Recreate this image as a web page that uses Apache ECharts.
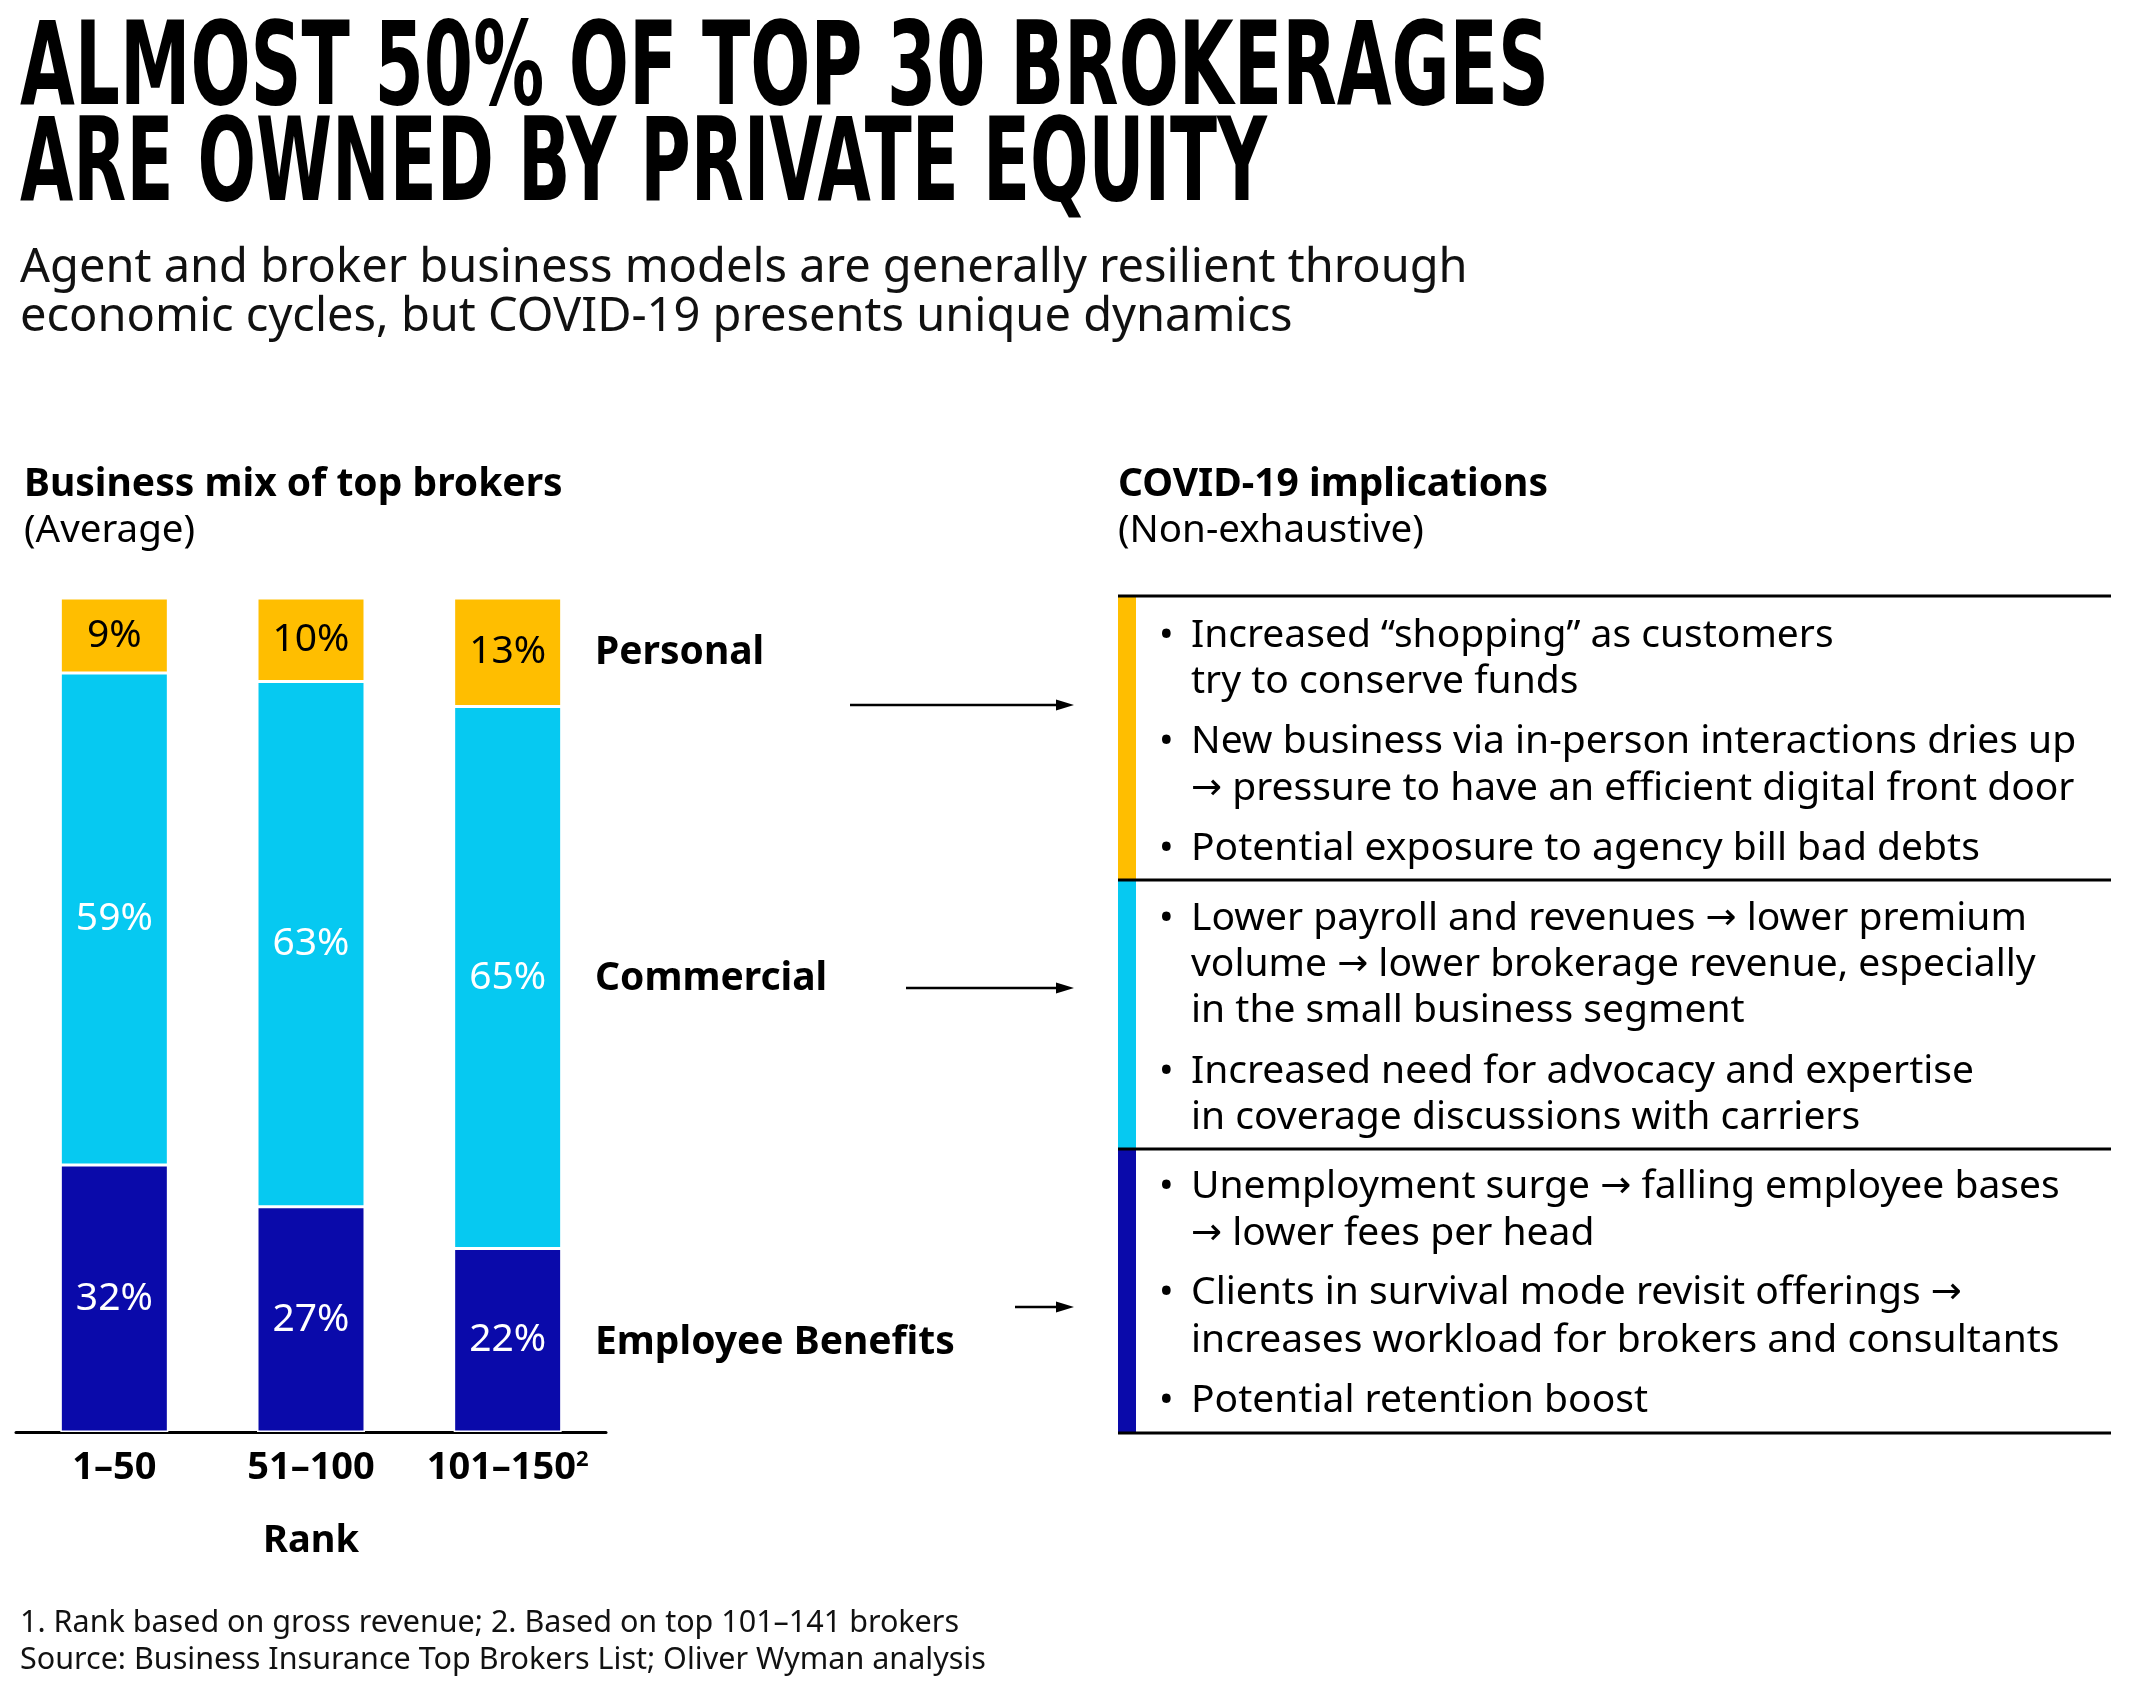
<!DOCTYPE html>
<html><head><meta charset="utf-8">
<script src="https://cdn.jsdelivr.net/npm/echarts@6/dist/echarts.min.js"></script>
<style>html,body{margin:0;padding:0;background:#fff}#c{width:2130px;height:1700px}</style>
</head><body><div id="c"></div>
<script>
// ---------- DATA ----------
const categories = ['1–50', '51–100', '101–150'];
const categoryNotes = ['', '', '2'];
const seriesNames = ['Employee Benefits', 'Commercial', 'Personal'];
const employeeBenefits = [32, 27, 22];
const commercial = [59, 63, 65];
const personal = [9, 10, 13];

const titleLines = ['ALMOST 50% OF TOP 30 BROKERAGES', 'ARE OWNED BY PRIVATE EQUITY'];
const subtitleLines = ['Agent and broker business models are generally resilient through',
  'economic cycles, but COVID-19 presents unique dynamics'];
const leftHeader = ['Business mix of top brokers', '(Average)'];
const rightHeader = ['COVID-19 implications', '(Non-exhaustive)'];
const axisName = 'Rank';
const personalBullets = [
  ['Increased “shopping” as customers', 'try to conserve funds'],
  ['New business via in-person interactions dries up', '→ pressure to have an efficient digital front door'],
  ['Potential exposure to agency bill bad debts']
];
const commercialBullets = [
  ['Lower payroll and revenues → lower premium', 'volume → lower brokerage revenue, especially', 'in the small business segment'],
  ['Increased need for advocacy and expertise', 'in coverage discussions with carriers']
];
const benefitsBullets = [
  ['Unemployment surge → falling employee bases', '→ lower fees per head'],
  ['Clients in survival mode revisit offerings →', 'increases workload for brokers and consultants'],
  ['Potential retention boost']
];
const footnotes = ['1. Rank based on gross revenue; 2. Based on top 101–141 brokers',
  'Source: Business Insurance Top Brokers List; Oliver Wyman analysis'];

// ---------- STYLE ----------
const C_YEL = '#FFBE00', C_CYAN = '#06C9F1', C_NAVY = '#0A0AAA';
const FONT = '"Noto Sans", "Open Sans", sans-serif';
const TITLE_FONT = '"Liberation Sans Narrow", "DejaVu Sans Condensed", sans-serif';

function measure(text, font) {
  const c = document.createElement('canvas').getContext('2d');
  c.font = font; return c.measureText(text).width;
}
const titleSize = 116;
const titleWidths = [1529, 1247];
const titleScales = titleLines.map((t, i) => titleWidths[i] / measure(t, 'bold ' + titleSize + 'px ' + TITLE_FONT));

const graphic = [];
function txt(x, y, text, size, weight, color) {
  const hasArrow = text.indexOf('→') >= 0;
  const style = { text: hasArrow ? text.replace(/→/g, '{ar|→}') : text,
    fontSize: size, fontFamily: FONT, fontWeight: weight || 'normal',
    fill: color || '#000', verticalAlign: 'middle', align: 'left' };
  if (hasArrow) style.rich = { ar: { fontSize: size * 0.95, fontFamily: '"DejaVu Sans", sans-serif', fill: color || '#000' } };
  graphic.push({ type: 'text', x: x, y: y, style: style });
}
// title
titleLines.forEach((t, i) => {
  graphic.push({ type: 'text', x: 20, y: [74, 170][i], scaleX: titleScales[i],
    style: { text: t, fontSize: titleSize, fontFamily: TITLE_FONT, fontWeight: 'bold',
      fill: '#000', verticalAlign: 'middle' } });
});
subtitleLines.forEach((t, i) => txt(20, [269, 318][i], t, 47, 'normal', '#111'));
txt(24, 485, leftHeader[0], 39, 'bold');
txt(24, 531, leftHeader[1], 38.5, 'normal');
txt(1118, 485, rightHeader[0], 39, 'bold');
txt(1118, 531, rightHeader[1], 38.5, 'normal');

// segment labels + arrows
const segLabelY = [653, 979, 1343];
const segNames = [seriesNames[2], seriesNames[1], seriesNames[0]];
segNames.forEach((n, i) => txt(595, segLabelY[i], n, 39, 'bold'));
const arrows = [[850, 705], [906, 988], [1015, 1307]];
arrows.forEach(a => {
  graphic.push({ type: 'line', shape: { x1: a[0], y1: a[1], x2: 1060, y2: a[1] },
    style: { stroke: '#000', lineWidth: 2.5 } });
  graphic.push({ type: 'polygon', shape: { points: [[1056, a[1] - 5.5], [1074, a[1]], [1056, a[1] + 5.5]] },
    style: { fill: '#000' } });
});

// right panel
const panelX = 1118, panelR = 2111;
const bands = [[596, 880, C_YEL], [880, 1149, C_CYAN], [1149, 1433, C_NAVY]];
bands.forEach(b => {
  graphic.push({ type: 'rect', shape: { x: panelX, y: b[0], width: 18, height: b[1] - b[0] },
    style: { fill: b[2] } });
});
[596, 880, 1149, 1433].forEach(y => {
  graphic.push({ type: 'line', shape: { x1: panelX, y1: y, x2: panelR, y2: y },
    style: { stroke: '#000', lineWidth: 3 } });
});
const bulletGroups = [personalBullets, commercialBullets, benefitsBullets];
const lineYs = [
  [[636, 682], [742, 789], [849]],
  [[919, 965, 1011], [1072, 1118]],
  [[1187, 1234], [1293, 1341], [1401]]
];
bulletGroups.forEach((g, gi) => {
  g.forEach((b, bi) => {
    txt(1159, lineYs[gi][bi][0], '•', 39, 'normal');
    b.forEach((line, li) => txt(1191, lineYs[gi][bi][li], line, 39, 'normal'));
  });
});
footnotes.forEach((f, i) => txt(20, [1623, 1660][i], f, 30.5, 'normal', '#111'));

const labelBase = { show: true, position: 'inside', fontSize: 39, fontFamily: FONT, formatter: '{c}%' };
const chart = echarts.init(document.getElementById('c'));
chart.setOption({
  animation: false,
  backgroundColor: '#fff',
  grid: { left: 16, right: 2130 - 606, top: 598, bottom: 1700 - 1432, containLabel: false },
  xAxis: {
    type: 'category',
    data: categories.map((c, i) => categoryNotes[i] ? c + '{sup|' + categoryNotes[i] + '}' : c),
    axisLine: { lineStyle: { color: '#000', width: 3 } },
    axisTick: { show: false },
    axisLabel: { interval: 0, hideOverlap: false, color: '#000', fontSize: 38, fontWeight: 'bold', fontFamily: FONT, margin: 17,
      rich: { sup: { fontSize: 22, fontWeight: 'bold', fontFamily: FONT, verticalAlign: 'top', padding: [0, 0, 16, 0] } } },
    name: axisName, nameLocation: 'middle', nameGap: 90,
    nameTextStyle: { color: '#000', fontSize: 38, fontWeight: 'bold', fontFamily: FONT }
  },
  yAxis: { type: 'value', min: 0, max: 100, show: false },
  series: [
    { name: seriesNames[0], type: 'bar', stack: 'mix', data: employeeBenefits, barWidth: 108,
      itemStyle: { color: C_NAVY, borderColor: '#fff', borderWidth: 1.5 },
      label: Object.assign({}, labelBase, { color: '#fff' }) },
    { name: seriesNames[1], type: 'bar', stack: 'mix', data: commercial, barWidth: 108,
      itemStyle: { color: C_CYAN, borderColor: '#fff', borderWidth: 1.5 },
      label: Object.assign({}, labelBase, { color: '#fff' }) },
    { name: seriesNames[2], type: 'bar', stack: 'mix', data: personal, barWidth: 108,
      itemStyle: { color: C_YEL, borderColor: '#fff', borderWidth: 1.5 },
      label: Object.assign({}, labelBase, { color: '#000' }) }
  ],
  graphic: graphic
});
</script></body></html>
